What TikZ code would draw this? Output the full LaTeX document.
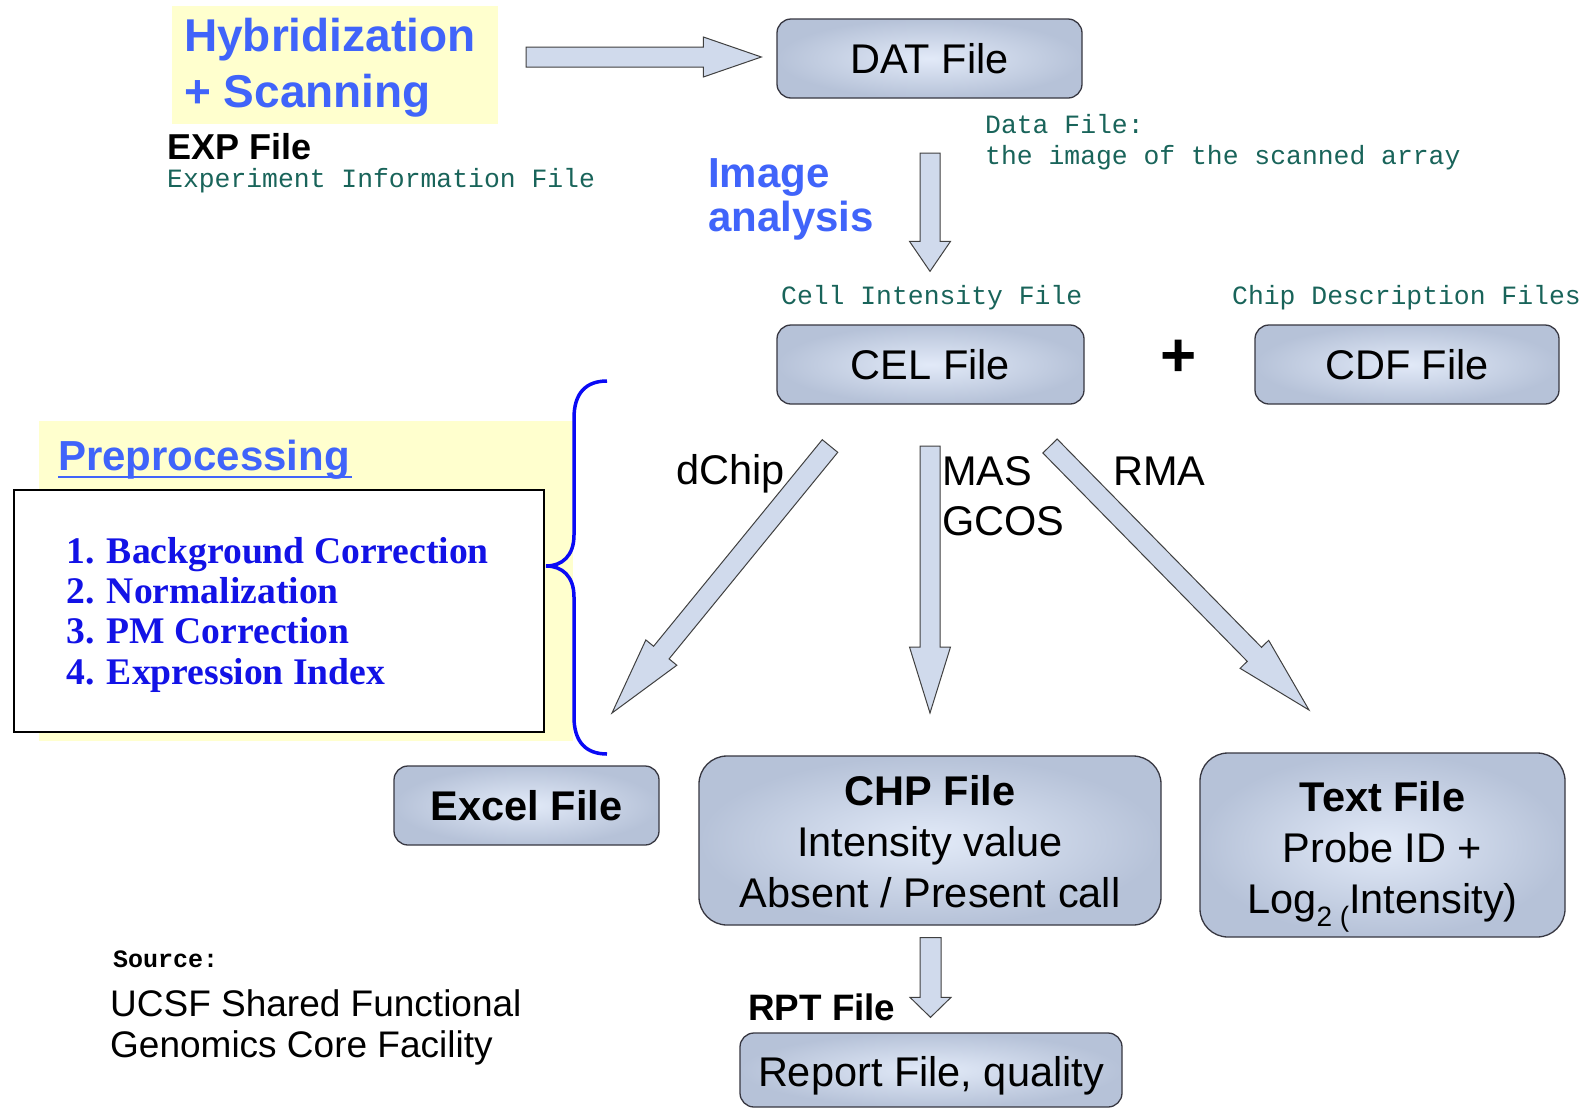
\documentclass[tikz,border=0pt]{standalone}
\usepackage{fontspec}
\setmainfont{Liberation Serif}
\setsansfont{Liberation Sans}
\setmonofont{Liberation Mono}
\usetikzlibrary{calc}
\definecolor{hybblue}{RGB}{64,100,250}
\definecolor{listblue}{RGB}{18,18,230}
\definecolor{bracecol}{RGB}{10,10,245}
\definecolor{tealtxt}{RGB}{25,100,90}
\definecolor{yel}{RGB}{255,255,206}
\definecolor{boxin}{RGB}{226,234,248}
\definecolor{boxout}{RGB}{182,194,216}
\definecolor{boxline}{RGB}{55,55,65}
\definecolor{arrfill}{RGB}{208,218,236}
\newcommand\fsz[2]{\fontsize{#1}{#2}\selectfont}
\newcommand\bkarrow[5]{%
  \coordinate (bkh) at ($(#2)!#4!(#1)$);
  \draw[blockarr] ($(#1)!#3!90:(#2)$) -- ($(bkh)!#3!-90:(#1)$) -- ($(bkh)!#5!-90:(#1)$)
    -- (#2) -- ($(bkh)!#5!90:(#1)$) -- ($(bkh)!#3!90:(#1)$) -- ($(#1)!#3!-90:(#2)$) -- cycle;}
\tikzset{
  fbox/.style={draw=boxline, line width=1.3pt, rounded corners=14pt, inner color=boxin, outer color=boxout,
    font=\sffamily\fsz{41.5}{52}, align=center, inner sep=0pt},
  boxtext/.style={inner sep=0pt, font=\sffamily\fsz{41.5}{51}, align=center},
  blockarr/.style={draw=black!75, line width=1pt, fill=arrfill, line join=miter},
  txt/.style={inner sep=0pt, anchor=base west},
  mono/.style={txt, font=\ttfamily\fsz{26.4}{30}, text=tealtxt},
  blue/.style={txt, font=\sffamily\bfseries\fsz{46}{56}, text=hybblue},
  lab/.style={txt, font=\sffamily\fsz{41.5}{50}},
  item/.style={txt, font=\rmfamily\bfseries\fsz{37.6}{40}, text=listblue},
}
\begin{document}
\begin{tikzpicture}[x=1pt,y=-1pt]
\useasboundingbox (0,0) rectangle (1591,1109);
\fill[white] (0,0) rectangle (1591,1109);
% top left
\node[fill=yel, minimum width=326, minimum height=118, inner sep=0pt] (hybbox) at (335,65) {};
\node[blue] (hyb1) at (184,51) {Hybridization};
\node[blue] (hyb2) at (184,107) {+ Scanning};
\node[txt, font=\sffamily\bfseries\fsz{36}{40}] (exp) at (167,159) {EXP File};
\node[mono] (expinfo) at (167,187) {Experiment Information File};
% DAT
\node[fbox, minimum width=305, minimum height=79] (dat) at (929.5,58.5) {DAT File};
\coordinate (a1s) at (526,57);
\coordinate (a1e) at ($(dat.west)+(-15,-1.5)$);
\bkarrow{a1s}{a1e}{10pt}{58pt}{20pt}
\node[blue, font=\sffamily\bfseries\fsz{42}{50}] (img1) at (708,187) {Image};
\node[blue, font=\sffamily\bfseries\fsz{42}{50}] (img2) at (708,231) {analysis};
\node[mono] (data1) at (985,133) {Data File:};
\node[mono] (data2) at (985,164) {the image of the scanned array};
% CEL / CDF
\node[fbox, minimum width=307, minimum height=79] (cel) at (930.5,364.5) {CEL File};
\node[fbox, minimum width=304, minimum height=79] (cdf) at (1407,364.5) {CDF File};
\coordinate (a2s) at (930,153);
\coordinate (a2e) at ($(cel.north)+(-0.5,-53)$);
\bkarrow{a2s}{a2e}{10pt}{30pt}{20.5pt}
\node[mono] (celinfo) at (781,304) {Cell Intensity File};
\node[mono] (cdfinfo) at (1232,304) {Chip Description Files};
\node[inner sep=0pt, font=\sffamily\bfseries\fsz{62}{62}] (plus) at (1179,358) {+};
% preprocessing
\fill[yel] (39,421) rectangle (573,741);
\node[txt, font=\sffamily\bfseries\fsz{42}{50}, text=hybblue] (pre) at (58,470) {Preprocessing};
\draw[hybblue, line width=2.6pt] ($(pre.base west)+(0,7)$) -- ($(pre.base east)+(2,7)$);
\node[draw=black, line width=1.6pt, fill=white, minimum width=530, minimum height=242, inner sep=0pt] (prebox) at (279,611) {};
\node[item] (i1) at (66,563) {1. Background Correction};
\node[item] (i2) at (66,603) {2. Normalization};
\node[item] (i3) at (66,643) {3. PM Correction};
\node[item] (i4) at (66,684) {4. Expression Index};
\draw[bracecol, line width=3.5pt] (607,381) .. controls (586,381) and (574,393) .. (574,418) -- (574,535)
  .. controls (574,556) and (562,566) .. (546,566) .. controls (562,566) and (574,576) .. (574,597)
  -- (574,717) .. controls (574,742) and (586,754) .. (607,754);
% three method arrows
\coordinate (a3s) at (830,446);
\coordinate (a3e) at (612,713);
\bkarrow{a3s}{a3e}{10pt}{78pt}{20pt}
\coordinate (a4s) at (930,446);
\coordinate (a4e) at (930,713);
\bkarrow{a4s}{a4e}{10pt}{66pt}{20.5pt}
\coordinate (a5s) at (1050,446);
\coordinate (a5e) at (1309,710);
\bkarrow{a5s}{a5e}{10pt}{78pt}{20pt}
\node[lab, anchor=base east] (dchip) at (785,484) {dChip};
\node[lab] (mas) at (942,485) {MAS};
\node[lab] (gcos) at (942,535) {GCOS};
\node[lab] (rma) at (1113,485) {RMA};
% bottom boxes
\node[fbox, minimum width=265, minimum height=79] (excel) at (526.5,805.5) {\bfseries Excel File};
\node[fbox, rounded corners=28pt, minimum width=462, minimum height=169] (chp) at (930,840.5) {};
\node[boxtext] (chpt) at ($(chp.center)+(0,1)$) {\bfseries CHP File\\Intensity value\\Absent / Present call};
\node[fbox, rounded corners=28pt, minimum width=365, minimum height=184] (txtf) at (1382.5,845) {};
\node[boxtext] (txtft) at ($(txtf.center)+(0,7)$)
  {\bfseries Text File\\Probe ID +\\Log\raisebox{-0.3em}[0pt][0pt]{\fsz{28}{28}2 (}Intensity)};
\node[fbox, minimum width=382, minimum height=74] (rpt) at (931,1070) {};
\node[boxtext] (rptt) at ($(rpt.center)+(0,6)$) {Report File, quality};
\coordinate (a6s) at ($(chp.south)+(0.5,12)$);
\coordinate (a6e) at ($(rpt.north)+(-0.5,-15)$);
\bkarrow{a6s}{a6e}{10.5pt}{20pt}{20.5pt}
\node[txt, font=\sffamily\bfseries\fsz{36.8}{40}] (rptl) at (748,1020) {RPT File};
% source
\node[txt, font=\ttfamily\bfseries\fsz{25}{30}] (src) at (113,967) {Source:};
\node[txt, font=\sffamily\fsz{37}{42}] (ucsf1) at (110,1016) {UCSF Shared Functional};
\node[txt, font=\sffamily\fsz{37}{42}] (ucsf2) at (110,1057) {Genomics Core Facility};
\end{tikzpicture}
\end{document}
